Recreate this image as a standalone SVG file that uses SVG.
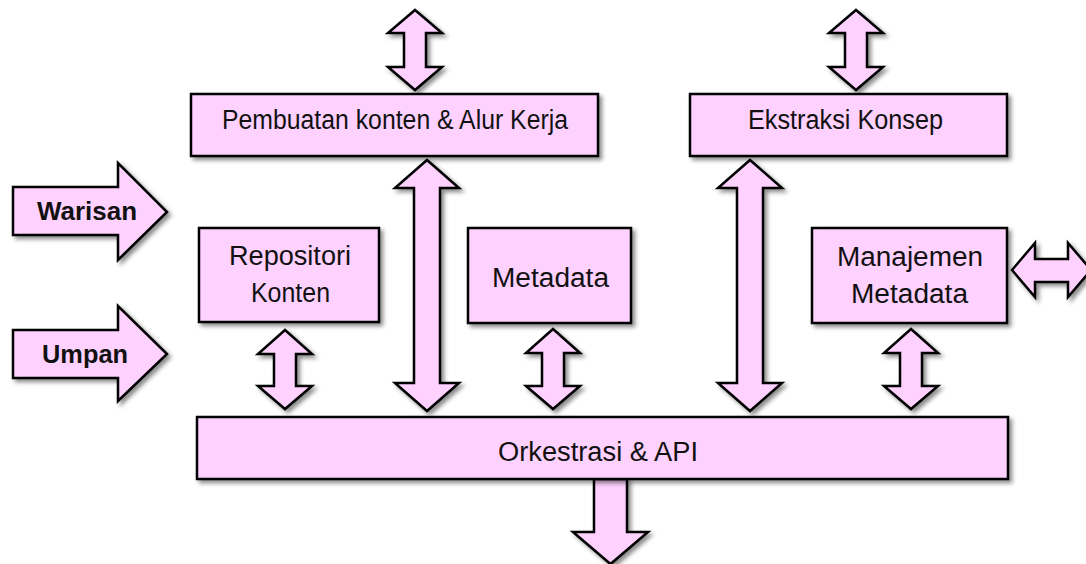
<svg xmlns="http://www.w3.org/2000/svg" width="1086" height="564" viewBox="0 0 1086 564">
  <defs>
    <filter id="shadow" x="-20%" y="-20%" width="140%" height="140%">
      <feDropShadow dx="3" dy="3" stdDeviation="2.2" flood-color="#000" flood-opacity="0.45"/>
    </filter>
  </defs>
  <style>
    .box { fill: #FFD1FF; stroke: #000; stroke-width: 2.5; filter: url(#shadow); }
    .arrow { fill: #FFD1FF; stroke: #000; stroke-width: 2.5; stroke-linejoin: miter; filter: url(#shadow); }
    .label { font-family: "Liberation Sans", Arial, sans-serif; font-size: 27px; fill: #111; }
    .bold { font-family: "Liberation Sans", Arial, sans-serif; font-size: 25px; font-weight: bold; fill: #111; }
  </style>
  <rect width="1086" height="564" fill="#fff"/>

  <!-- connectors: block arrows -->
  <g id="connectors">
    <!-- short double arrows above the top row -->
    <path class="arrow" d="M415,10 L442,33 L426,33 L426,67 L442,67 L415,90 L388,67 L404,67 L404,33 L388,33 Z"/>
    <path class="arrow" d="M856,10 L883,33 L867,33 L867,67 L883,67 L856,90 L829,67 L845,67 L845,33 L829,33 Z"/>
    <!-- long double arrows from the top row down to the API bar -->
    <path class="arrow" d="M427,160 L459,188 L440,188 L440,383 L459,383 L427,411 L395,383 L414,383 L414,188 L395,188 Z"/>
    <path class="arrow" d="M750,160 L782,188 L763,188 L763,383 L782,383 L750,411 L718,383 L737,383 L737,188 L718,188 Z"/>
    <!-- short double arrows between middle row and API bar -->
    <path class="arrow" d="M285,330 L312,354 L296,354 L296,386 L312,386 L285,409 L258,386 L274,386 L274,354 L258,354 Z"/>
    <path class="arrow" d="M553,329 L580,353 L564,353 L564,386 L580,386 L553,409 L526,386 L542,386 L542,353 L526,353 Z"/>
    <path class="arrow" d="M911,329 L938,353 L922,353 L922,386 L938,386 L911,409 L884,386 L900,386 L900,353 L884,353 Z"/>
    <!-- horizontal double arrow to the right of metadata management -->
    <path class="arrow" d="M1012,270 L1035,243 L1035,259 L1068,259 L1068,243 L1091,270 L1068,297 L1068,282 L1035,282 L1035,297 Z"/>
    <!-- output arrow below the API bar -->
    <path class="arrow" d="M594,479 L627,479 L627,532 L648,532 L610.5,564 L573,532 L594,532 Z"/>
  </g>

  <!-- inputs -->
  <g id="warisan">
    <path class="arrow" d="M13,187 L118,187 L118,163 L167,212 L118,260 L118,235 L13,235 Z"/>
    <text class="bold" x="37" y="220" textLength="100" lengthAdjust="spacingAndGlyphs">Warisan</text>
  </g>
  <g id="umpan">
    <path class="arrow" d="M13,330 L118,330 L118,306 L167,354 L118,401 L118,378 L13,378 Z"/>
    <text class="bold" x="42" y="363" textLength="86" lengthAdjust="spacingAndGlyphs">Umpan</text>
  </g>

  <g id="pembuatan-konten">
    <rect class="box" x="191" y="94" width="407" height="62"/>
    <text class="label" x="222" y="129" textLength="346" lengthAdjust="spacingAndGlyphs">Pembuatan konten &amp; Alur Kerja</text>
  </g>
  <g id="ekstraksi-konsep">
    <rect class="box" x="690" y="94" width="317" height="62"/>
    <text class="label" x="748" y="129" textLength="195" lengthAdjust="spacingAndGlyphs">Ekstraksi Konsep</text>
  </g>
  <g id="repositori-konten">
    <rect class="box" x="199" y="228" width="180" height="94"/>
    <text class="label" x="229" y="265" textLength="122" lengthAdjust="spacingAndGlyphs">Repositori</text>
    <text class="label" x="251" y="302" textLength="79" lengthAdjust="spacingAndGlyphs">Konten</text>
  </g>
  <g id="metadata">
    <rect class="box" x="468" y="228" width="163" height="95"/>
    <text class="label" x="492" y="287" textLength="117" lengthAdjust="spacingAndGlyphs">Metadata</text>
  </g>
  <g id="manajemen-metadata">
    <rect class="box" x="812" y="228" width="195" height="95"/>
    <text class="label" x="837" y="266" textLength="146" lengthAdjust="spacingAndGlyphs">Manajemen</text>
    <text class="label" x="851" y="303" textLength="117" lengthAdjust="spacingAndGlyphs">Metadata</text>
  </g>
  <g id="orkestrasi-api">
    <rect class="box" x="197" y="417" width="811" height="62"/>
    <text class="label" x="498" y="461" textLength="200" lengthAdjust="spacingAndGlyphs">Orkestrasi &amp; API</text>
  </g>
</svg>
